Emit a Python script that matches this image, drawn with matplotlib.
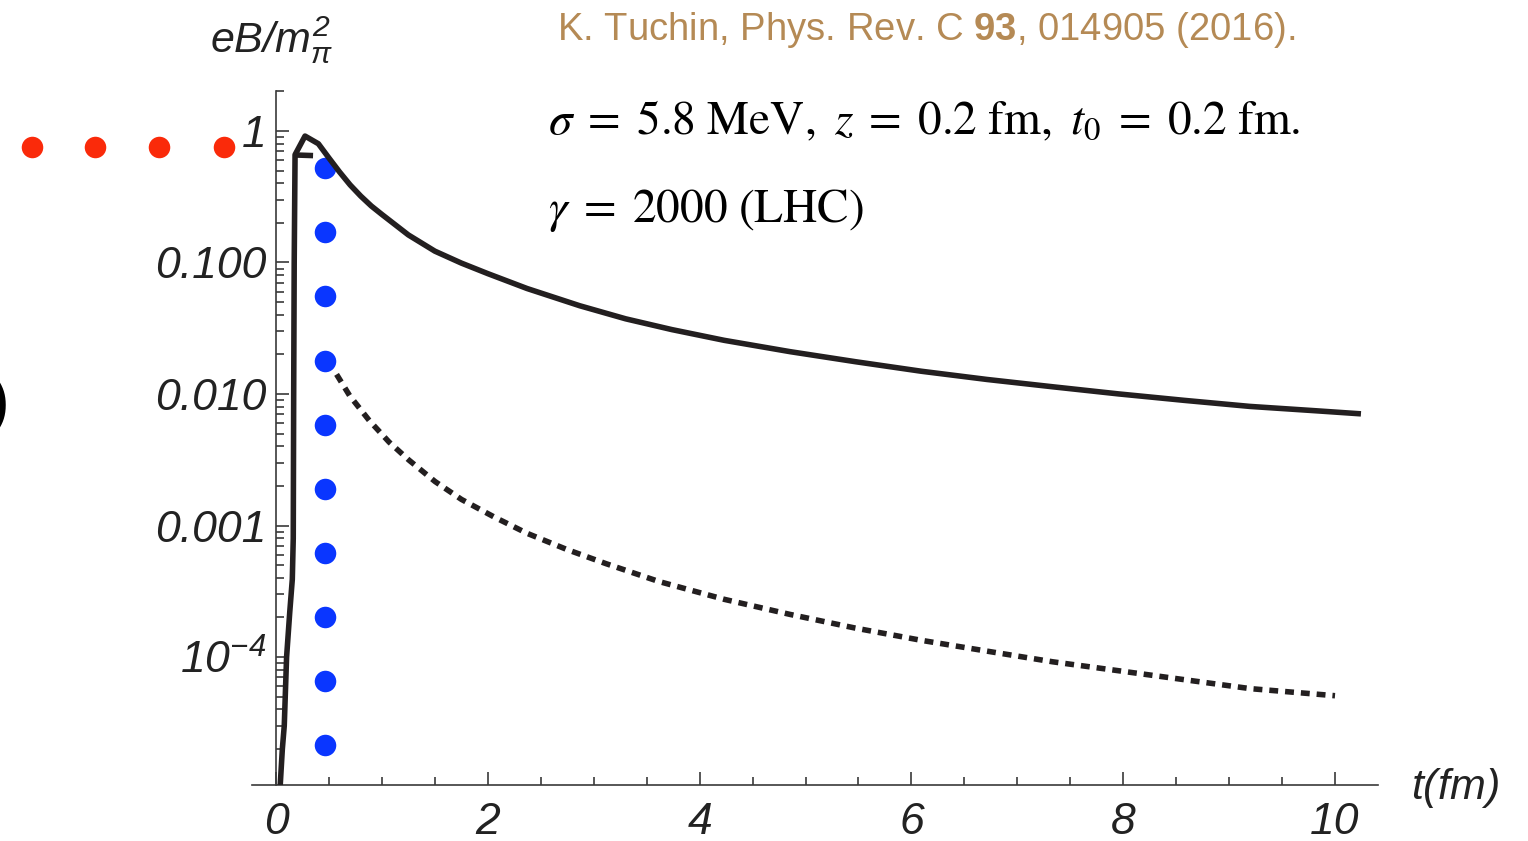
import matplotlib
matplotlib.use("Agg")
import matplotlib.pyplot as plt
from matplotlib.ticker import FixedLocator, NullFormatter

plt.rcParams["font.family"] = ["Liberation Sans", "DejaVu Sans"]
plt.rcParams["mathtext.fontset"] = "custom"
plt.rcParams["mathtext.rm"] = "Liberation Sans:italic"
plt.rcParams["mathtext.it"] = "Liberation Sans:italic"
plt.rcParams["mathtext.bf"] = "Liberation Sans:bold"

# solid curve
solid_t = [0.038, 0.06, 0.078, 0.10, 0.13, 0.154, 0.163, 0.167, 0.172, 0.18, 0.274,
           0.40, 0.50, 0.60, 0.70, 0.80, 0.90, 1.0, 1.25, 1.5, 1.75, 2.0, 2.371,
           2.868, 3.302, 3.737, 4.232, 4.853, 5.473, 6.093, 6.714, 7.334, 7.955,
           8.575, 9.195, 9.816, 10.219]
solid_B = [1.0e-5, 2.0e-5, 3.0e-5, 1.0e-4, 2.2e-4, 3.9e-4, 8.0e-4, 0.01, 0.1, 0.66, 0.915,
           0.80, 0.623, 0.488, 0.389, 0.320, 0.269, 0.232, 0.162, 0.122, 0.099, 0.0823, 0.0634,
           0.0469, 0.0373, 0.0309, 0.0256, 0.0210, 0.0176, 0.0149, 0.0129, 0.01135,
           0.01002, 0.00895, 0.00805, 0.00746, 0.00709]

# short flat piece at the top
stub_t = [0.18, 0.35]
stub_B = [0.657, 0.650]

# dotted curve
dot_t = [0.572, 0.696, 0.882, 1.068, 1.254, 1.502, 1.751, 2.061, 2.37, 2.743,
         3.116, 3.612, 4.23, 4.853, 5.47, 6.093, 6.71, 7.334, 7.955, 8.575,
         9.2, 10.0]
dot_B = [0.0141, 0.0097, 0.00627, 0.00431, 0.00315, 0.00216, 0.00158, 0.00116,
         8.73e-4, 6.59e-4, 5.13e-4, 3.76e-4, 2.75e-4, 2.11e-4, 1.66e-4, 1.34e-4,
         1.11e-4, 9.2e-5, 7.87e-5, 6.73e-5, 5.75e-5, 5.08e-5]

# marker rows
blue_t = [0.463] * 10
blue_B = [0.523, 0.1706, 0.0556, 0.01782, 0.00581, 0.001895, 6.18e-4,
          2.014e-4, 6.57e-5, 2.14e-5]
red_t = [-2.304, -1.709, -1.105, -0.491]
red_B = [0.755] * 4

yticks = [1e-4, 1e-3, 1e-2, 1e-1, 1]
ylabels = [r"$10^{-4}$", "0.001", "0.010", "0.100", "1"]
xticks = [0, 2, 4, 6, 8, 10]

ink = "#231f20"
axis_col = "#3a3a3a"

fig = plt.figure(figsize=(15.28, 8.41), dpi=100)
ax = fig.add_axes([252 / 1528, 1 - 785 / 841, 1126 / 1528, 693.6 / 841])
ax.set_yscale("log")
ax.set_xlim(-0.2266, 10.406)
ax.set_ylim(1.064e-5, 2.0)

ax.plot(blue_t, blue_B, "o", color="#0a36ff", ms=15.5, mec="none", zorder=2)
ax.plot(red_t, red_B, "o", color="#fa2a0a", ms=15.5, mec="none", clip_on=False, zorder=2)
ax.plot(solid_t, solid_B, color=ink, lw=4.0, solid_joinstyle="round", zorder=3)
ax.plot(stub_t, stub_B, color=ink, lw=4.0, solid_capstyle="butt", zorder=3)
ax.plot(dot_t, dot_B, color=ink, lw=4.0, dashes=(1.6, 1.25), zorder=3)

for s in ["top", "right"]:
    ax.spines[s].set_visible(False)
ax.spines["left"].set_position(("data", 0))
for s in ["left", "bottom"]:
    ax.spines[s].set_color(axis_col)
    ax.spines[s].set_linewidth(1.2)

ax.xaxis.set_major_locator(FixedLocator(xticks))
ax.xaxis.set_minor_locator(FixedLocator([i * 0.5 for i in range(21)]))
ax.set_xticklabels([str(v) for v in xticks])
ax.yaxis.set_major_locator(FixedLocator(yticks))
ax.yaxis.set_minor_locator(FixedLocator([m * 10.0 ** e for e in range(-5, 1) for m in range(2, 10)]))
ax.yaxis.set_minor_formatter(NullFormatter())
ax.set_yticklabels(ylabels)

ax.tick_params(which="both", direction="in", color=axis_col, width=1.2,
               labelsize=32, labelcolor="#222222")
ax.tick_params(which="major", length=9.5)
ax.tick_params(which="minor", length=5.5)
ax.tick_params(axis="x", pad=12)
ax.tick_params(axis="y", pad=7)
for lab in ax.get_xticklabels() + ax.get_yticklabels():
    lab.set_style("italic")

fig.text(272 / 1528, 1 - 40 / 841, r"$eB/m_{\pi}^{2}$", fontsize=31,
         ha="center", va="center", color="#222222")
fig.text(1455 / 1528, 1 - 788 / 841, r"$t(fm)$", fontsize=31,
         ha="center", va="center", color="#222222")
fig.text(557 / 1528, 1 - 30 / 841, r"K. Tuchin, Phys. Rev. C $\mathbf{93}$, 014905 (2016).",
         fontsize=27.5, ha="left", va="center", color="#b58a55")
fig.text(548 / 1528, 1 - 122 / 841,
         r"$\sigma\;=\;5.8\ \mathrm{MeV},\ z\;=\;0.2\ \mathrm{fm},\ t_0\;=\;0.2\ \mathrm{fm.}$",
         fontsize=34, ha="left", va="center", color="black", math_fontfamily="stix")
fig.text(548 / 1528, 1 - 210 / 841, r"$\gamma\;=\;2000\ \mathrm{(LHC)}$",
         fontsize=34, ha="left", va="center", color="black", math_fontfamily="stix")
fig.text(8 / 1528, 1 - 405 / 841, ")", fontsize=40, fontweight="bold",
         ha="right", va="center", color="black")

fig.savefig("out.png", dpi=100, facecolor="white")
